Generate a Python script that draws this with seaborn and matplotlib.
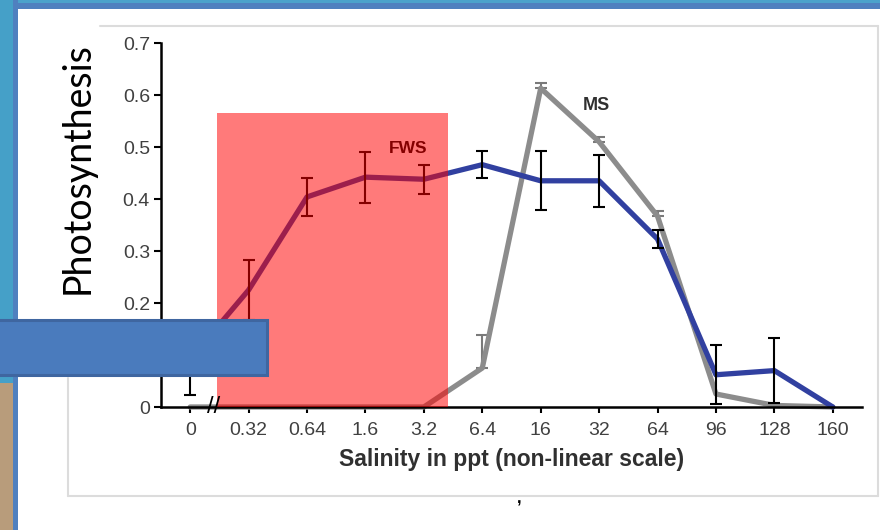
import matplotlib
matplotlib.use("Agg")
import matplotlib.pyplot as plt
from matplotlib.patches import Rectangle
from matplotlib.lines import Line2D
import numpy as np
import pandas as pd
import seaborn as sns

# ── data ─────────────────────────────────────────────────────────────────────
salinity = ["0", "0.32", "0.64", "1.6", "3.2", "6.4", "16", "32", "64", "96", "128", "160"]
fws_mean = [0.092, 0.225, 0.404, 0.442, 0.438, 0.466, 0.435, 0.435, 0.323, 0.062, 0.070, 0.000]
fws_err = [0.068, 0.058, 0.037, 0.049, 0.028, 0.026, 0.057, 0.050, 0.017, 0.057, 0.063, 0.000]
ms_mean = [0.000, 0.000, 0.000, 0.000, 0.000, 0.075, 0.613, 0.510, 0.367, 0.025, 0.003, 0.000]
ms_err = [0.000, 0.000, 0.000, 0.000, 0.000, 0.063, 0.010, 0.010, 0.010, 0.000, 0.000, 0.000]

# freshwater range highlighted on the slide (category positions / value)
fws_band = (0.46, 4.42)
fws_band_top = 0.565

FWS_COLOR = "#3140A0"
MS_COLOR = "#8C8C8C"
TICK_COLOR = "#404040"

sns.set_theme(style="ticks")
plt.rcParams["font.family"] = ["Liberation Sans", "DejaVu Sans"]

W, H = 880, 530
fig = plt.figure(figsize=(W / 100, H / 100), dpi=100)
fig.patch.set_facecolor("white")


def px(x, y):
    """figure pixel (from top-left) -> figure fraction"""
    return x / W, 1 - y / H


# ── slide frame behind the chart ─────────────────────────────────────────────
def frect(x0, y0, x1, y1, **kw):
    fx0, fy1 = px(x0, y1)
    r = Rectangle((fx0, fy1), (x1 - x0) / W, (y1 - y0) / H, transform=fig.transFigure, **kw)
    fig.patches.append(r)
    return r


frect(0, 0, W, 9, facecolor="#4F80BF", edgecolor="none", zorder=0)
frect(0, 0, W, 3, facecolor="#4BA2CB", edgecolor="none", zorder=0)
frect(0, 0, 13, 383, facecolor="#45A0C8", edgecolor="none", zorder=0)
frect(0, 383, 13, H, facecolor="#B89C7B", edgecolor="none", zorder=0)
frect(13, 0, 18, H, facecolor="#4F80BF", edgecolor="none", zorder=0)

# thin grey frame of the pasted chart image
for xs, ys in [((100, 878), (26, 26)), ((878, 878), (26, 496)),
               ((68, 878), (496, 496)), ((68, 68), (378, 496))]:
    fx = [x / W for x in xs]
    fy = [1 - y / H for y in ys]
    fig.add_artist(Line2D(fx, fy, transform=fig.transFigure, color="#DCDCDC", lw=1.5, zorder=1))

# ── the chart ────────────────────────────────────────────────────────────────
l, r_ = 161 / W, 862 / W
b, t = 1 - 407 / H, 1 - 43 / H
ax = fig.add_axes([l, b, r_ - l, t - b])
ax.set_facecolor("none")

pos = np.arange(len(salinity))
df = pd.DataFrame({
    "pos": np.concatenate([pos, pos]),
    "value": ms_mean + fws_mean,
    "strain": ["MS"] * len(pos) + ["FWS"] * len(pos),
})

sns.lineplot(data=df, x="pos", y="value", hue="strain", hue_order=["MS", "FWS"],
             palette={"MS": MS_COLOR, "FWS": FWS_COLOR}, linewidth=3.8,
             legend=False, ax=ax, clip_on=False)

# error bars only where there is one
ms_m = np.array(ms_mean)
ms_e = np.array(ms_err)
keep = ms_e > 0
ax.errorbar(pos[keep], ms_m[keep], yerr=[np.zeros(keep.sum()), ms_e[keep]], fmt="none",
            ecolor="#7A7A7A", elinewidth=1.5, capsize=4, capthick=1.5, zorder=1.5)
fws_m = np.array(fws_mean)
fws_e = np.array(fws_err)
keep = fws_e > 0
ax.errorbar(pos[keep], fws_m[keep], yerr=fws_e[keep], fmt="none", ecolor="black",
            elinewidth=1.5, capsize=4, capthick=1.5, zorder=3, clip_on=False)

ax.text(3.73, 0.498, "FWS", fontsize=12.5, fontweight="bold", color="black",
        ha="center", va="center", zorder=4)
ax.text(6.95, 0.58, "MS", fontsize=13, fontweight="bold", color="#303030",
        ha="center", va="center", zorder=4)

# semi-transparent red highlight over the freshwater range
ax.add_patch(Rectangle((fws_band[0], 0), fws_band[1] - fws_band[0], fws_band_top,
                       facecolor="red", alpha=0.52, edgecolor="none", zorder=5))

ax.set_xlim(-0.5, 11.5)
ax.set_ylim(0, 0.7)
ax.set_xticks(pos)
ax.set_xticklabels(salinity)
ax.set_yticks([0, 0.1, 0.2, 0.3, 0.4, 0.5, 0.6, 0.7])
ax.set_yticklabels(["0", "0.1", "0.2", "0.3", "0.4", "0.5", "0.6", "0.7"])
ax.tick_params(axis="x", length=4, width=1.5, color="black", labelsize=14,
               labelcolor=TICK_COLOR, pad=7)
ax.tick_params(axis="y", length=5, width=1.5, color="black", labelsize=14,
               labelcolor=TICK_COLOR, pad=3)
for side in ("top", "right"):
    ax.spines[side].set_visible(False)
for side in ("left", "bottom"):
    ax.spines[side].set_linewidth(1.8)
    ax.spines[side].set_color("black")
ax.set_xlabel("Salinity in ppt (non-linear scale)", fontsize=16.5, fontweight="bold",
              color="#303030", labelpad=6)
ax.set_ylabel("")

# axis break mark
ax.text(0.4, 0, "//", fontsize=17, color="black", ha="center", va="center",
        zorder=6, clip_on=False)

fig.text(*px(78, 168), "Photosynthesis", rotation=90, fontsize=27,
         family=["Lato", "DejaVu Sans"], color="black", ha="center", va="center")

fig.text(*px(519, 499), ",", fontsize=12, fontweight="bold", color="black",
         ha="center", va="center")

# slide shape overlapping the chart
frect(-10, 320, 267, 375, facecolor="#4A7BBD", edgecolor="#3F66A0", linewidth=2.2, zorder=10)

fig.savefig("out.png", dpi=100)
